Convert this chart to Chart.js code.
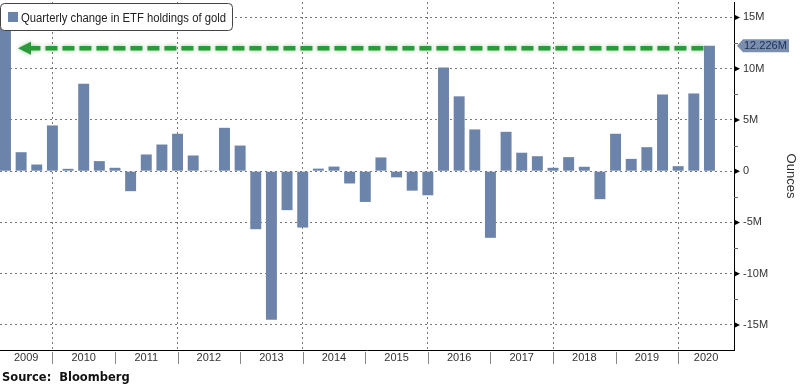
<!DOCTYPE html>
<html>
<head>
<meta charset="utf-8">
<script src="https://cdn.jsdelivr.net/npm/chart.js@4.4.1/dist/chart.umd.min.js"></script>
<style>
html, body { margin: 0; padding: 0; background: #fff; }
#wrap { width: 800px; height: 385px; position: relative; }
</style>
</head>
<body>
<div id="wrap"><canvas id="chart"></canvas></div>
<script>
// quarterly change in gold ETF holdings, millions of ounces, Q1 2009 .. Q2 2020
const years = ['2009', '2010', '2011', '2012', '2013', '2014', '2015', '2016', '2017', '2018', '2019', '2020']
const values = [
  14.8, 1.85, 0.65, 4.46,
  0.23, 8.53, 0.98, 0.33,
  -1.95, 1.63, 2.6, 3.65,
  1.53, 0.08, 4.23, 2.5,
  -5.66, -14.5, -3.8, -5.5,
  0.25, 0.45, -1.2, -3.0,
  1.34, -0.6, -1.9, -2.35,
  10.1, 7.3, 4.07, -6.5,
  3.84, 1.8, 1.46, 0.33,
  1.37, 0.43, -2.73, 3.65,
  1.2, 2.34, 7.48, 0.49,
  7.58, 12.226
]
const yTicks = [-15, -10, -5, 0, 5, 10, 15]
const yMinorTicks = [-12.5, -7.5, -2.5, 2.5, 7.5, 12.5]
const legendText = 'Quarterly change in ETF holdings of gold'
const lastValueLabel = '12.226M'

const barColor = '#6c84a9'
const face = '"Liberation Sans", Arial, sans-serif'

Chart.defaults.font.family = face

const points = values.map((v, i) => ({ x: i, y: v }))

const overlay = {
  id: 'overlay',
  afterDraw(chart) {
    const { ctx, chartArea: a, scales: { x, y } } = chart
    ctx.save()

    // year labels in the strip under the axis
    ctx.font = '11px ' + face
    ctx.fillStyle = '#333'
    ctx.textAlign = 'center'
    ctx.textBaseline = 'middle'
    ctx.strokeStyle = '#888'
    ctx.lineWidth = 1
    years.forEach((yr, i) => {
      const lo = Math.max(a.left, x.getPixelForValue(4 * i - 1))
      const hi = Math.min(a.right, x.getPixelForValue(4 * i + 3))
      ctx.fillText(yr, (lo + hi) / 2, a.bottom + 8)
      if (i > 0) {
        const px = Math.round(x.getPixelForValue(4 * i - 1)) + 0.5
        ctx.beginPath()
        ctx.moveTo(px, a.bottom + 2)
        ctx.lineTo(px, a.bottom + 14)
        ctx.stroke()
      }
    })

    // tick markers on the right axis
    ctx.fillStyle = '#000'
    yTicks.forEach(v => {
      const py = y.getPixelForValue(v)
      ctx.beginPath()
      ctx.moveTo(a.right + 1, py - 2.5)
      ctx.lineTo(a.right + 6, py)
      ctx.lineTo(a.right + 1, py + 2.5)
      ctx.closePath()
      ctx.fill()
    })
    ctx.strokeStyle = '#666'
    yMinorTicks.forEach(v => {
      const py = Math.round(y.getPixelForValue(v)) + 0.5
      ctx.beginPath()
      ctx.moveTo(a.right, py)
      ctx.lineTo(a.right + 4, py)
      ctx.stroke()
    })

    // axis title
    ctx.save()
    ctx.translate(791, (a.top + a.bottom) / 2)
    ctx.rotate(Math.PI / 2)
    ctx.font = '13px ' + face
    ctx.fillStyle = '#333'
    ctx.textAlign = 'center'
    ctx.textBaseline = 'middle'
    ctx.fillText('Ounces', 0, 0)
    ctx.restore()

    // last value label
    const last = values[values.length - 1]
    const ly = y.getPixelForValue(last)
    const lx = a.right + 3
    ctx.fillStyle = '#7b8eae'
    ctx.beginPath()
    ctx.moveTo(lx, ly)
    ctx.lineTo(lx + 6, ly - 6.5)
    ctx.lineTo(lx + 52, ly - 6.5)
    ctx.lineTo(lx + 52, ly + 6.5)
    ctx.lineTo(lx + 6, ly + 6.5)
    ctx.closePath()
    ctx.fill()
    ctx.fillStyle = '#1b3260'
    ctx.font = '11px ' + face
    ctx.textAlign = 'left'
    ctx.textBaseline = 'middle'
    ctx.fillText(lastValueLabel, lx + 7, ly + 0.5)

    // green dashed arrow back to 2009
    const ay = y.getPixelForValue(12.0)
    const ax1 = x.getPixelForValue(values.length - 1) - 6
    const tip = 18
    ctx.save()
    ctx.shadowColor = 'rgba(60,160,60,0.55)'
    ctx.shadowBlur = 4
    ctx.strokeStyle = '#2c9a3a'
    ctx.lineWidth = 4.5
    ctx.setLineDash([12, 5])
    ctx.beginPath()
    ctx.moveTo(ax1, ay)
    ctx.lineTo(tip + 12, ay)
    ctx.stroke()
    ctx.setLineDash([])
    ctx.fillStyle = '#2c9a3a'
    ctx.beginPath()
    ctx.moveTo(tip, ay)
    ctx.lineTo(tip + 13, ay - 6.5)
    ctx.lineTo(tip + 13, ay + 6.5)
    ctx.closePath()
    ctx.fill()
    ctx.restore()

    // legend box
    const r = 4, bx = 0.5, by = 3.5, bw = 232, bh = 27
    ctx.fillStyle = '#fff'
    ctx.strokeStyle = '#444'
    ctx.lineWidth = 1
    ctx.beginPath()
    ctx.roundRect(bx, by, bw, bh, r)
    ctx.fill()
    ctx.stroke()
    ctx.fillStyle = barColor
    ctx.fillRect(8, 12, 10, 10)
    ctx.fillStyle = '#222'
    ctx.font = '12px ' + face
    ctx.textAlign = 'left'
    ctx.textBaseline = 'alphabetic'
    ctx.fillText(legendText, 21, 22, 205)

    // source line
    ctx.fillStyle = '#111'
    ctx.font = 'bold 11.5px "DejaVu Sans", sans-serif'
    ctx.fillText('Source:  Bloomberg', 2, 381)

    ctx.restore()
  }
}

new Chart(document.getElementById('chart'), {
  type: 'bar',
  data: {
    datasets: [{
      data: points,
      backgroundColor: barColor,
      borderWidth: 0,
      barPercentage: 0.7,
      categoryPercentage: 1
    }]
  },
  options: {
    responsive: true,
    maintainAspectRatio: false,
    animation: false,
    layout: { padding: { top: 2, left: 0, right: 0, bottom: 0 } },
    plugins: { legend: { display: false }, tooltip: { enabled: false } },
    scales: {
      x: {
        type: 'linear',
        offset: false,
        min: -0.35,
        max: 46.57,
        afterBuildTicks: axis => {
          axis.ticks = years.slice(1).map((_, i) => ({ value: 4 * (i + 1) - 1 }))
        },
        afterFit: axis => {
          axis.height = 35
          axis.paddingLeft = 0
          axis.paddingRight = 0
        },
        ticks: { display: false },
        grid: {
          offset: false,
          drawTicks: false,
          color: c => (c.tick && ((c.tick.value + 1) / 4) % 2 === 1) ? '#777' : 'rgba(0,0,0,0)',
          lineWidth: 1
        },
        border: { display: true, color: '#000', width: 1, dash: [2, 3] }
      },
      y: {
        position: 'right',
        min: -17.44,
        max: 16.5,
        afterBuildTicks: axis => { axis.ticks = yTicks.map(v => ({ value: v })) },
        afterFit: axis => {
          axis.width = 66
          axis.paddingTop = 0
          axis.paddingBottom = 0
        },
        ticks: {
          padding: 9,
          color: '#333',
          font: { size: 11 },
          callback: v => v === 0 ? '0' : v + 'M'
        },
        grid: { drawTicks: false, color: '#777', lineWidth: 1 },
        border: { display: true, color: '#000', width: 1, dash: [2, 3] }
      }
    }
  },
  plugins: [overlay]
})
</script>
</body>
</html>
